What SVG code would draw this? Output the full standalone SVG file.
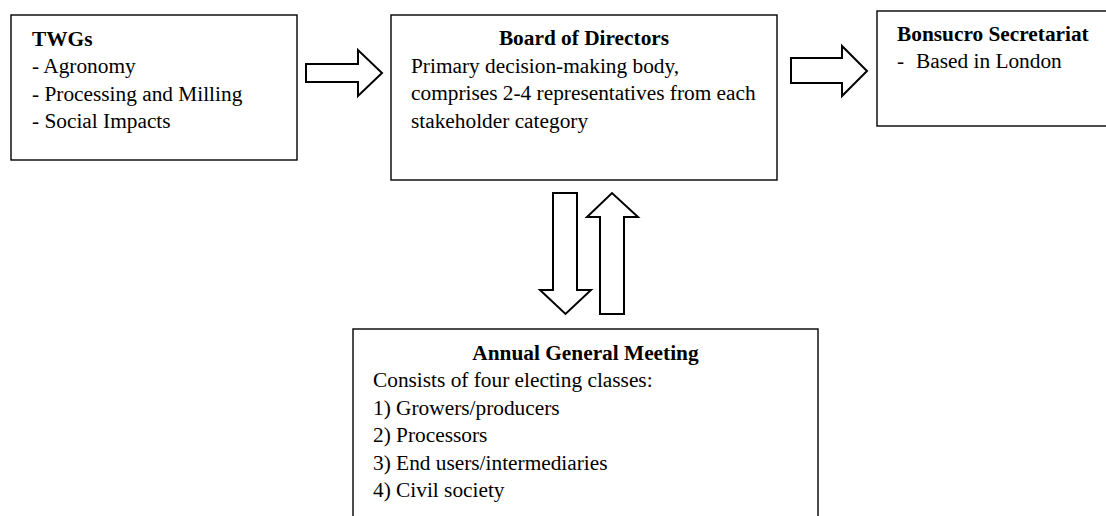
<svg xmlns="http://www.w3.org/2000/svg" width="1106" height="516" viewBox="0 0 1106 516">
  <style>
    .box { fill: #ffffff; stroke: #000000; stroke-width: 1.4; }
    .arrow { fill: #ffffff; stroke: #000000; stroke-width: 2; stroke-linejoin: miter; }
    .txt text { font-size: 21.33px; fill: #000000; }
    .title { font-weight: bold; }
    .mid { text-anchor: middle; }
  </style>
  <rect width="1106" height="516" fill="#ffffff"/>

  <g class="txt" font-family="'Liberation Serif', Tinos, 'Times New Roman', 'DejaVu Serif', serif">
    <!-- Technical working groups -->
    <g id="twgs">
      <rect class="box" x="11" y="15" width="286" height="145"/>
      <text class="title" x="32" y="46">TWGs</text>
      <text x="32" y="73">- Agronomy</text>
      <text x="32" y="101">- Processing and Milling</text>
      <text x="32" y="128">- Social Impacts</text>
    </g>

    <!-- Board of Directors -->
    <g id="board">
      <rect class="box" x="391" y="15" width="386" height="165"/>
      <text class="title mid" x="584" y="45">Board of Directors</text>
      <text x="411" y="73">Primary decision-making body,</text>
      <text x="411" y="100">comprises 2-4 representatives from each</text>
      <text x="411" y="128">stakeholder category</text>
    </g>

    <!-- Secretariat -->
    <g id="secretariat">
      <rect class="box" x="877" y="11" width="240" height="115"/>
      <text class="title" x="897" y="41">Bonsucro Secretariat</text>
      <text x="897" y="68">-<tspan x="916">Based in London</tspan></text>
    </g>

    <!-- Annual General Meeting -->
    <g id="agm">
      <rect class="box" x="353" y="329" width="465" height="200"/>
      <text class="title mid" x="585.5" y="360">Annual General Meeting</text>
      <text x="373" y="387">Consists of four electing classes:</text>
      <text x="373" y="414.5">1) Growers/producers</text>
      <text x="373" y="442">2) Processors</text>
      <text x="373" y="469.5">3) End users/intermediaries</text>
      <text x="373" y="497">4) Civil society</text>
    </g>
  </g>

  <!-- Block arrows between bodies -->
  <g id="connectors">
    <polygon class="arrow" points="306,64 358,64 358,50 382,73 358,96 358,82 306,82"/>
    <polygon class="arrow" points="791,58 842,58 842,46 867,71 842,96 842,83 791,83"/>
    <polygon class="arrow" points="553,193 577,193 577,290 591,290 565.5,314 540,290 553,290"/>
    <polygon class="arrow" points="600,314 624,314 624,217 638,217 612,193 587,217 600,217"/>
  </g>
</svg>
